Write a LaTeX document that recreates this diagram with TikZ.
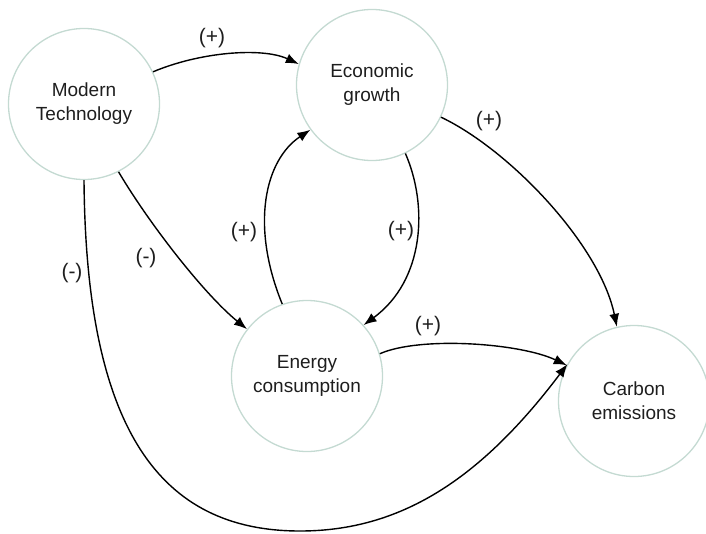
\documentclass[tikz,border=0pt]{standalone}
\usepackage{fontspec}
\setmainfont{Liberation Sans}
\usetikzlibrary{arrows.meta}
\definecolor{ringcol}{RGB}{196,218,210}
\definecolor{txtcol}{RGB}{30,30,30}
\begin{document}
\begin{tikzpicture}[x=1pt,y=-1pt,
  factor/.style={circle,draw=ringcol,line width=1.3pt,minimum size=151pt,inner sep=0pt,
    align=center,font=\fontsize{19}{24}\selectfont,text=txtcol},
  link/.style={draw=black,line width=1.4pt,-{Latex[length=13pt,width=10pt]}},
  sign/.style={font=\fontsize{21}{24}\selectfont,text=txtcol}]
\useasboundingbox (0,0) rectangle (706,533);
\node[factor] (mt) at (84,104) {Modern\\Technology};
\node[factor] (eg) at (372,85) {Economic\\growth};
\node[factor] (ec) at (307,376) {Energy\\consumption};
\node[factor] (ce) at (634,401) {Carbon\\emissions};
% edges
\draw[link] (mt.25) .. controls (200,52) and (262,47) .. (eg.164);
\draw[link] (mt.-63) .. controls (150,225) and (205,295) .. (ec.142);
\draw[link] (mt.-90) .. controls (86,430) and (160,531) .. (300,531)
  .. controls (400,531) and (480,480) .. (ce.151);
\draw[link] (ec.109) .. controls (250,225) and (265,160) .. (eg.216);
\draw[link] (eg.-64) .. controls (428,205) and (425,280) .. (ec.42);
\draw[link] (eg.-25) .. controls (510,150) and (600,245) .. (ce.103);
\draw[link] (ec.17) .. controls (420,336) and (520,343) .. (ce.152);
% labels
\node[sign] (l1) at (212,38) {(+)};
\node[sign] (l2) at (146,258) {(-)};
\node[sign] (l3) at (72,273) {(-)};
\node[sign] (l4) at (244,232) {(+)};
\node[sign] (l5) at (401,231) {(+)};
\node[sign] (l6) at (489,121) {(+)};
\node[sign] (l7) at (428,326) {(+)};
\end{tikzpicture}
\end{document}
